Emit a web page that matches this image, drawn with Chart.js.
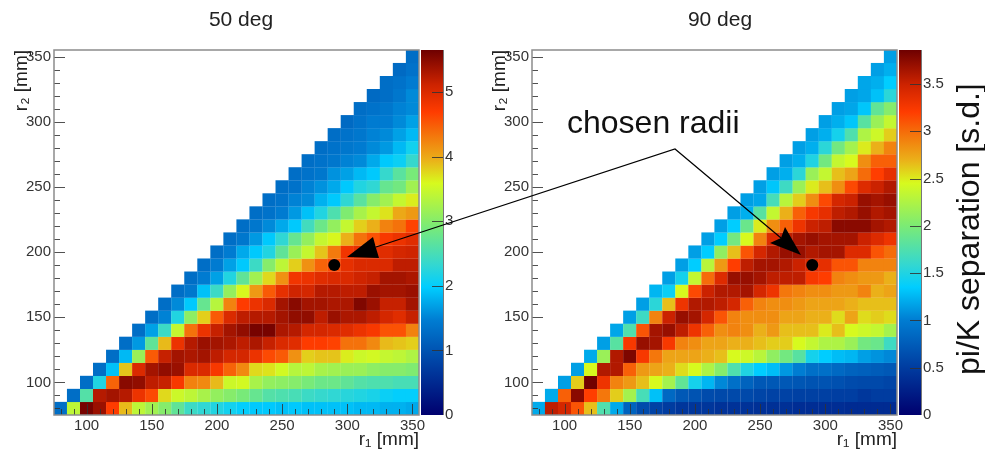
<!DOCTYPE html>
<html>
<head>
<meta charset="utf-8">
<script src="https://cdn.jsdelivr.net/npm/chart.js@4"></script>
<style>
html, body { margin: 0; padding: 0; background: #fff; overflow: hidden; }
canvas { position: absolute; top: 0; filter: blur(0.45px); }
</style>
</head>
<body>
<canvas id="panel50" width="482" height="453" style="left:0;width:482px;height:453px"></canvas>
<canvas id="panel90" width="484" height="453" style="left:478px;width:484px;height:453px"></canvas>
<canvas id="notes" width="985" height="453" style="left:0;width:985px;height:453px"></canvas>
<script>
// bin centres [mm], both axes
var r_bins = [80,90,100,110,120,130,140,150,160,170,180,190,200,210,220,230,240,250,260,270,280,290,300,310,320,330,340,350];
var r_ticks = [100,150,200,250,300,350];
var z_ticks_50 = [0,1,2,3,4,5];
var z_ticks_90 = [0,0.5,1,1.5,2,2.5,3,3.5];
var z_max_50 = 5.65;
var z_max_90 = 3.86;
var chosen_r1 = [290];
var chosen_r2 = [190];

// one row per r2 bin, row k starts at r1 bin k (r1 >= r2 only)
var sep_50 = [
 [1.3,3.4,5.6,5.4,4.7,3.9,3.4,3.2,3.0,2.7,2.4,2.3,2.2,2.1,2.0,1.95,1.95,1.9,1.95,1.9,1.9,1.9,1.9,1.85,1.85,1.8,1.8,1.75],
 [1.3,2.6,5.25,5.35,5.25,4.85,4.6,3.75,3.5,3.4,3.25,3.1,3.0,2.9,2.75,2.6,2.55,2.5,2.4,2.35,2.3,2.25,2.2,2.15,2.05,2.0,2.0],
 [1.3,2.2,4.45,5.5,5.45,5.2,5.15,4.75,4.25,4.2,3.9,3.5,3.55,3.25,3.1,3.05,3.0,2.9,2.8,2.8,2.7,2.6,2.55,2.55,2.5,2.5],
 [1.3,1.9,3.85,5.0,5.35,5.45,5.4,5.0,5.0,4.75,4.45,4.2,3.75,3.7,3.55,3.35,3.4,3.25,3.2,3.15,3.15,3.05,3.0,3.0,2.95],
 [1.3,1.85,3.15,4.5,5.15,5.35,5.3,5.35,5.2,5.05,5.05,4.85,4.6,4.5,4.15,3.8,3.85,3.85,3.65,3.5,3.55,3.45,3.4,3.3],
 [1.3,1.65,2.7,3.9,4.85,5.25,5.4,5.35,5.3,5.2,5.3,5.15,5.0,4.95,4.7,4.7,4.65,4.35,4.35,4.2,3.9,3.85,3.8],
 [1.3,1.7,2.4,3.45,4.35,4.85,5.15,5.35,5.45,5.6,5.6,5.3,5.25,5.05,5.05,5.0,4.95,4.85,4.75,4.55,4.55,4.25],
 [1.3,1.5,2.2,3.05,3.8,4.5,5.0,5.2,5.25,5.25,5.35,5.45,5.45,5.2,5.4,5.3,5.3,5.2,5.05,4.95,5.15],
 [1.3,1.55,1.95,2.75,3.35,4.25,4.7,4.85,5.0,5.35,5.5,5.35,5.35,5.3,5.3,5.55,5.4,5.15,5.15,5.35],
 [1.3,1.4,1.9,2.4,3.1,3.6,4.1,4.5,4.9,5.1,5.05,5.25,5.25,5.2,5.2,5.4,5.35,5.35,5.4],
 [1.3,1.45,1.7,2.2,2.7,3.2,3.75,4.15,4.8,4.85,4.95,5.0,5.0,5.1,5.15,5.35,5.35,5.3],
 [1.3,1.45,1.7,1.95,2.4,3.0,3.4,3.8,4.15,4.45,4.6,4.9,5.0,5.0,5.0,5.2,5.2],
 [1.3,1.45,1.75,1.95,2.2,2.7,3.15,3.45,3.85,4.3,4.8,4.9,4.9,4.95,5.05,5.1],
 [1.3,1.4,1.65,1.95,2.3,2.75,3.1,3.45,3.6,3.95,4.35,4.55,4.75,4.85,4.95],
 [1.3,1.4,1.55,1.75,1.95,2.45,2.8,3.1,3.45,3.8,3.95,4.25,4.35,4.65],
 [1.3,1.35,1.45,1.65,1.9,2.2,2.55,2.95,3.25,3.45,3.7,4.0,4.1],
 [1.3,1.35,1.5,1.55,1.8,1.95,2.3,2.65,3.0,3.2,3.45,3.65],
 [1.3,1.35,1.5,1.6,1.75,1.95,2.2,2.3,2.75,2.85,3.2],
 [1.3,1.35,1.4,1.6,1.7,1.85,1.95,2.35,2.65,2.9],
 [1.3,1.35,1.4,1.5,1.55,1.75,1.95,2.05,2.35],
 [1.3,1.35,1.4,1.45,1.55,1.65,1.85,2.1],
 [1.3,1.35,1.4,1.5,1.55,1.7,1.85],
 [1.25,1.35,1.45,1.45,1.55,1.7],
 [1.3,1.35,1.4,1.5,1.55],
 [1.25,1.3,1.4,1.55],
 [1.3,1.35,1.45],
 [1.25,1.35],
 [1.3]
];

var sep_90 = [
 [1.2,3.55,3.45,3.1,2.65,1.75,1.2,.8,.62,.55,.5,.45,.45,.45,.42,.42,.42,.4,.4,.4,.38,.38,.38,.38,.36,.36,.36,.36],
 [1.2,3.05,3.75,3.2,2.95,2.6,2.2,1.7,1.3,.85,.72,.68,.62,.6,.6,.6,.57,.55,.55,.53,.53,.53,.52,.52,.46,.5,.5],
 [1.15,2.6,3.85,3.3,2.9,2.8,2.65,2.45,2.2,1.85,1.45,1.25,1.05,.9,.8,.72,.72,.72,.7,.68,.68,.66,.62,.6,.6,.57],
 [1.15,2.45,3.6,3.6,3.05,2.8,2.75,2.7,2.55,2.45,2.25,2.05,1.75,1.5,1.35,1.28,1.12,1.0,.9,.9,.85,.8,.78,.75,.72],
 [1.2,2.15,3.6,3.8,3.25,2.95,2.75,2.75,2.75,2.7,2.65,2.45,2.4,2.3,2.1,1.95,1.8,1.45,1.35,1.28,1.25,1.15,1.1,1.05],
 [1.15,1.8,3.25,3.7,3.65,3.25,2.9,2.85,2.75,2.75,2.7,2.7,2.65,2.6,2.6,2.45,2.35,2.25,2.25,2.15,1.95,1.9,1.65],
 [1.18,1.75,3.1,3.65,3.7,3.55,3.3,3.05,2.85,2.9,2.85,2.7,2.8,2.65,2.65,2.65,2.5,2.65,2.45,2.4,2.35,2.2],
 [1.15,1.65,2.9,3.5,3.7,3.65,3.45,3.1,2.9,2.85,2.85,2.85,2.75,2.75,2.7,2.7,2.55,2.75,2.55,2.6,2.55],
 [1.15,1.55,2.65,3.3,3.6,3.6,3.55,3.45,3.05,2.9,2.85,2.85,2.8,2.75,2.75,2.75,2.7,2.65,2.65,2.65],
 [1.25,1.4,2.45,3.15,3.5,3.6,3.6,3.65,3.45,3.3,2.95,2.9,2.85,2.85,2.8,2.8,2.9,2.7,2.75],
 [1.15,1.45,2.35,3.0,3.4,3.7,3.7,3.65,3.55,3.55,3.55,3.25,3.2,2.9,2.85,2.8,2.8,2.7],
 [1.15,1.35,2.3,2.8,3.2,3.55,3.65,3.65,3.6,3.5,3.4,3.35,3.1,3.1,2.9,2.9,2.9],
 [1.15,1.35,2.1,2.65,3.1,3.45,3.6,3.7,3.7,3.6,3.65,3.65,3.4,3.4,3.1,3.0],
 [1.15,1.35,1.95,2.45,2.9,3.4,3.55,3.65,3.7,3.65,3.65,3.65,3.5,3.4,3.3],
 [1.15,1.35,1.9,2.5,2.85,3.05,3.3,3.5,3.55,3.75,3.75,3.75,3.65,3.6],
 [1.15,1.22,1.8,2.35,2.7,3.05,3.25,3.35,3.55,3.6,3.7,3.6,3.65],
 [1.15,1.18,1.7,2.3,2.6,2.85,3.15,3.45,3.5,3.7,3.65,3.7],
 [1.15,1.32,1.65,2.15,2.5,2.65,2.85,3.15,3.4,3.5,3.6],
 [1.15,1.22,1.55,2.15,2.35,2.65,2.75,3.0,3.2,3.35],
 [1.15,1.22,1.5,1.95,2.35,2.45,2.85,3.05,3.05],
 [1.15,1.22,1.55,1.95,2.2,2.5,2.7,2.9],
 [1.15,1.22,1.45,1.75,2.25,2.4,2.6],
 [1.15,1.22,1.32,1.8,2.15,2.35],
 [1.15,1.18,1.32,1.85,2.05],
 [1.15,1.18,1.3,1.55],
 [1.18,1.22,1.35],
 [1.15,1.22],
 [1.15]
];

// rainbow palette
var cmap_pos = [0,.13,.26,.35,.41,.52,.635,.70,.775,.83,.905,1];
var cmap_rgb = [[0,0,110],[0,60,160],[0,125,210],[0,205,255],[50,215,210],[125,235,115],[215,250,30],[235,175,25],[245,110,10],[255,60,0],[205,35,0],[110,0,0]];

var label_font = "'Liberation Sans', Arial, sans-serif";

function palette(t) {
    var k = 1;
    while (k < cmap_pos.length - 1 && t > cmap_pos[k]) k++;
    var f = Math.max(0, Math.min(1, (t - cmap_pos[k-1]) / (cmap_pos[k] - cmap_pos[k-1])));
    var a = cmap_rgb[k-1], b = cmap_rgb[k];
    return "rgb(" + Math.round(a[0]+(b[0]-a[0])*f) + "," + Math.round(a[1]+(b[1]-a[1])*f) + "," + Math.round(a[2]+(b[2]-a[2])*f) + ")";
}

function build_cells(values) {
    var cells = [];
    for (var k = 0; k < values.length; k++) {
        for (var j = 0; j < values[k].length; j++) {
            cells.push({x: r_bins[k+j], y: r_bins[k], v: values[k][j]});
        }
    }
    return cells;
}

// colour bar, inward ticks and frame: ROOT style, chart.js has no option for it
var root_frame = {
    id: 'root_frame',
    beforeDatasetsDraw: function(chart) {
        var ctx = chart.ctx, a = chart.chartArea, z = chart.scales.z;
        var grad = ctx.createLinearGradient(0, a.bottom, 0, a.top);
        cmap_pos.forEach(function(p) { grad.addColorStop(p, palette(p)); });
        ctx.fillStyle = grad;
        ctx.fillRect(a.right + 2, z.getPixelForValue(z.max), 22, z.getPixelForValue(0) - z.getPixelForValue(z.max));
    },
    afterDatasetsDraw: function(chart) {
        var ctx = chart.ctx, a = chart.chartArea, z = chart.scales.z;
        var xs = chart.scales.x, ys = chart.scales.y;
        ctx.save();
        ctx.strokeStyle = "rgba(50,50,50,0.85)";
        ctx.lineWidth = 1;
        ctx.beginPath();
        r_bins.forEach(function(r) {
            var len = r_ticks.indexOf(r) >= 0 ? 11 : 6;
            var px = Math.round(xs.getPixelForValue(r)) + 0.5;
            ctx.moveTo(px, a.bottom);
            ctx.lineTo(px, a.bottom - len);
            var py = Math.round(ys.getPixelForValue(r)) + 0.5;
            ctx.moveTo(a.left, py);
            ctx.lineTo(a.left + len, py);
        });
        z.ticks.forEach(function(t) {
            if (t.value == 0) return;
            var py = Math.round(z.getPixelForValue(t.value)) + 0.5;
            ctx.moveTo(a.right + 24, py);
            ctx.lineTo(a.right + 13, py);
        });
        ctx.stroke();
        ctx.strokeStyle = "#8c8c8c";
        ctx.lineWidth = 1.5;
        ctx.strokeRect(a.left, a.top, a.right - a.left, a.bottom - a.top);
        ctx.lineWidth = 1;
        ctx.strokeStyle = "#777";
        ctx.beginPath();
        ctx.moveTo(a.right + 24.5, a.top);
        ctx.lineTo(a.right + 24.5, a.bottom);
        ctx.stroke();
        ctx.restore();
    }
};

function show_heatmap(id_canvas, titulo, values, z_max, z_ticks, total_width) {
    var ctx = document.getElementById(id_canvas).getContext('2d');
    var tick_font = {family: label_font, size: 15};
    var axis_font = {family: label_font, size: 19};
    return new Chart(ctx, {
        type: 'scatter',
        data: {
            datasets: [{
                label: 'chosen',
                data: [{x: chosen_r1[0], y: chosen_r2[0]}],
                pointStyle: 'circle',
                pointRadius: 6,
                pointBorderWidth: 0,
                pointBackgroundColor: "#000"
            }, {
                label: 'separation',
                data: build_cells(values),
                pointStyle: 'rect',
                pointRadius: 9.35,
                pointBorderWidth: 0,
                pointBackgroundColor: function(c) { return palette(c.raw.v / z_max); }
            }]
        },
        options: {
            responsive: false,
            animation: false,
            events: [],
            layout: {padding: 0},
            scales: {
                x: {
                    type: 'linear', min: 75, max: 355,
                    afterBuildTicks: function(s) { s.ticks = r_ticks.map(function(v) { return {value: v}; }); },
                    afterFit: function(s) { s.height = 38; },
                    grid: {display: false, drawTicks: false},
                    border: {display: false},
                    ticks: {autoSkip: false, maxRotation: 0, padding: 2, color: "#333", font: tick_font},
                    title: {display: true, text: "r\u2081 [mm]", align: 'end', color: "#222", font: axis_font, padding: {top: 0, bottom: 2}}
                },
                y: {
                    type: 'linear', min: 75, max: 355,
                    afterBuildTicks: function(s) { s.ticks = r_ticks.map(function(v) { return {value: v}; }); },
                    afterFit: function(s) { s.width = 54; },
                    grid: {display: false, drawTicks: false},
                    border: {display: false},
                    ticks: {autoSkip: false, padding: 3, color: "#333", font: tick_font},
                    title: {display: true, text: "r\u2082 [mm]", align: 'end', color: "#222", font: axis_font, padding: {top: 10, bottom: 0}}
                },
                z: {
                    type: 'linear', position: 'right', min: 0, max: z_max,
                    afterBuildTicks: function(s) { s.ticks = z_ticks.map(function(v) { return {value: v}; }); },
                    afterFit: function(s) { s.width = total_width - 419; },
                    grid: {display: false, drawTicks: false},
                    border: {display: false},
                    ticks: {autoSkip: false, padding: 26, color: "#333", font: tick_font, callback: function(v) { return String(v); }}
                }
            },
            plugins: {
                legend: {display: false},
                tooltip: {enabled: false},
                title: {
                    display: true,
                    text: titulo,
                    color: "#222",
                    font: {family: label_font, size: 21, weight: 'normal'},
                    padding: {top: 8, bottom: 16.8}
                }
            }
        },
        plugins: [root_frame]
    });
}

var chart_50 = show_heatmap('panel50', "50 deg", sep_50, z_max_50, z_ticks_50, 482);
var chart_90 = show_heatmap('panel90', "90 deg", sep_90, z_max_90, z_ticks_90, 484);

// annotation lies across both canvases, so it goes on its own layer
function show_notes() {
    var ctx = document.getElementById('notes').getContext('2d');
    var apex = [675, 149];
    ctx.strokeStyle = "#000";
    ctx.fillStyle = "#000";
    ctx.lineWidth = 1.2;
    ctx.beginPath();
    ctx.moveTo(376, 247);
    ctx.lineTo(apex[0], apex[1]);
    ctx.lineTo(781, 238);
    ctx.stroke();
    ctx.beginPath();
    ctx.moveTo(347, 257); ctx.lineTo(373, 237); ctx.lineTo(376, 248); ctx.lineTo(379, 258);
    ctx.closePath();
    ctx.fill();
    ctx.beginPath();
    ctx.moveTo(801, 255); ctx.lineTo(785, 227); ctx.lineTo(781, 238); ctx.lineTo(770, 243);
    ctx.closePath();
    ctx.fill();
    ctx.font = "32px " + label_font;
    ctx.fillStyle = "#111";
    ctx.fillText("chosen radii", 567, 133);
    ctx.save();
    ctx.translate(979, 375);
    ctx.rotate(-Math.PI / 2);
    ctx.fillText("pi/K separation [s.d.]", 0, 0);
    ctx.restore();
}
show_notes();
</script>
</body>
</html>
